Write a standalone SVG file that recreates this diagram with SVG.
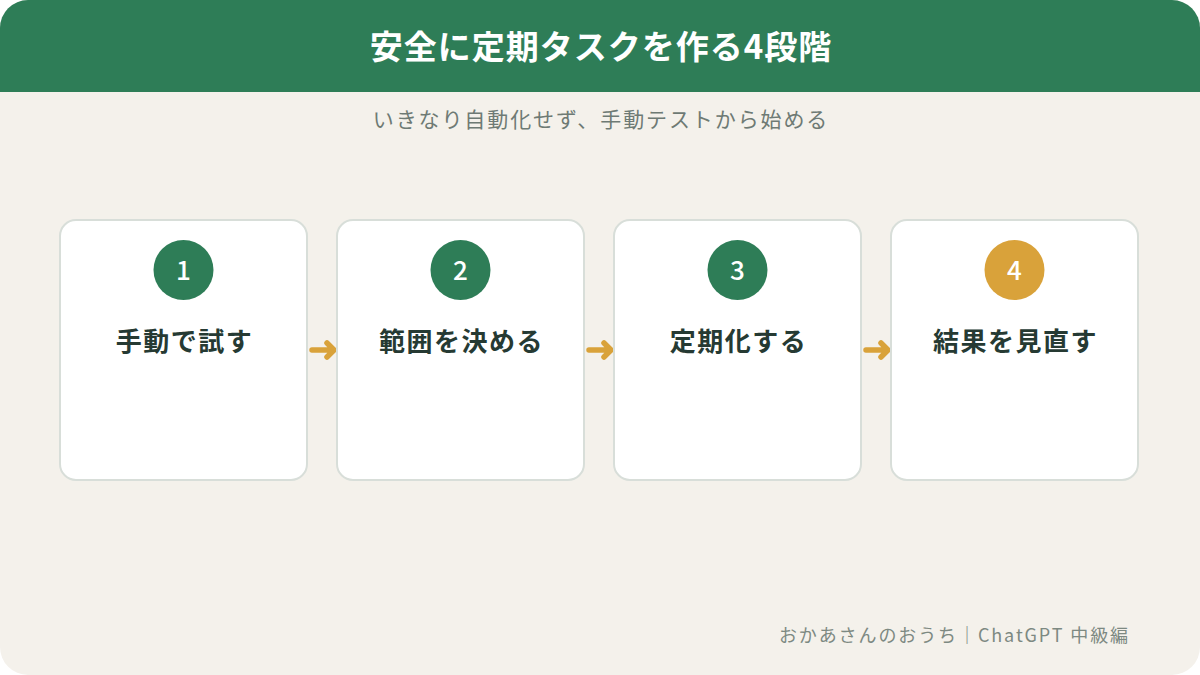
<svg xmlns="http://www.w3.org/2000/svg" width="1200" height="675" viewBox="0 0 1200 675">
<defs>
<style>
.card{fill:#ffffff;stroke:#d8ded9;stroke-width:2}
.num{font-family:"Noto Sans CJK JP","Noto Sans",sans-serif;font-weight:500;font-size:26px;fill:#ffffff;text-anchor:middle}
.lbl{font-family:"Noto Sans CJK JP",sans-serif;font-weight:700;font-size:26px;letter-spacing:1.5px;fill:#263a33;text-anchor:middle}
.arr{fill:none;stroke:#d9a23a;stroke-width:5.5;stroke-linecap:round;stroke-linejoin:round}
</style>
<clipPath id="pg"><rect x="0" y="0" width="1200" height="675" rx="28"/></clipPath>
</defs>
<rect width="1200" height="675" fill="#ffffff"/>
<g clip-path="url(#pg)">
<rect width="1200" height="675" fill="#f4f1eb"/>
<rect width="1200" height="92" fill="#2e7d57"/>
</g>
<text x="601" y="59" font-family="Noto Sans CJK JP, sans-serif" font-weight="700" font-size="33" letter-spacing="1" fill="#ffffff" text-anchor="middle">安全に定期タスクを作る4段階</text>
<text x="601" y="127" font-family="Noto Sans CJK JP, sans-serif" font-size="21" letter-spacing="1.9" fill="#6e7a74" text-anchor="middle">いきなり自動化せず、手動テストから始める</text>
<g id="connectors">
<path class="arr" d="M312 350H334M327 343L334 350L327 357"/>
<path class="arr" d="M589 350H611M604 343L611 350L604 357"/>
<path class="arr" d="M866 350H888M881 343L888 350L881 357"/>
</g>
<g id="step1">
<rect class="card" x="60" y="220" width="247" height="260" rx="16"/>
<circle cx="183.5" cy="270" r="30" fill="#2e7d57"/>
<text class="num" x="183.5" y="280">1</text>
<text class="lbl" x="184.5" y="351">手動で試す</text>
</g>
<g id="step2">
<rect class="card" x="337" y="220" width="247" height="260" rx="16"/>
<circle cx="460.5" cy="270" r="30" fill="#2e7d57"/>
<text class="num" x="460.5" y="280">2</text>
<text class="lbl" x="461.5" y="351">範囲を決める</text>
</g>
<g id="step3">
<rect class="card" x="614" y="220" width="247" height="260" rx="16"/>
<circle cx="737.5" cy="270" r="30" fill="#2e7d57"/>
<text class="num" x="737.5" y="280">3</text>
<text class="lbl" x="738.5" y="351">定期化する</text>
</g>
<g id="step4">
<rect class="card" x="891" y="220" width="247" height="260" rx="16"/>
<circle cx="1014.5" cy="270" r="30" fill="#d9a23a"/>
<text class="num" x="1014.5" y="280">4</text>
<text class="lbl" x="1015.5" y="351">結果を見直す</text>
</g>
<text x="1130" y="642" font-family="Noto Sans CJK JP, sans-serif" font-size="18" letter-spacing="1.9" fill="#7d8982" text-anchor="end">おかあさんのおうち｜ChatGPT 中級編</text>
</svg>
